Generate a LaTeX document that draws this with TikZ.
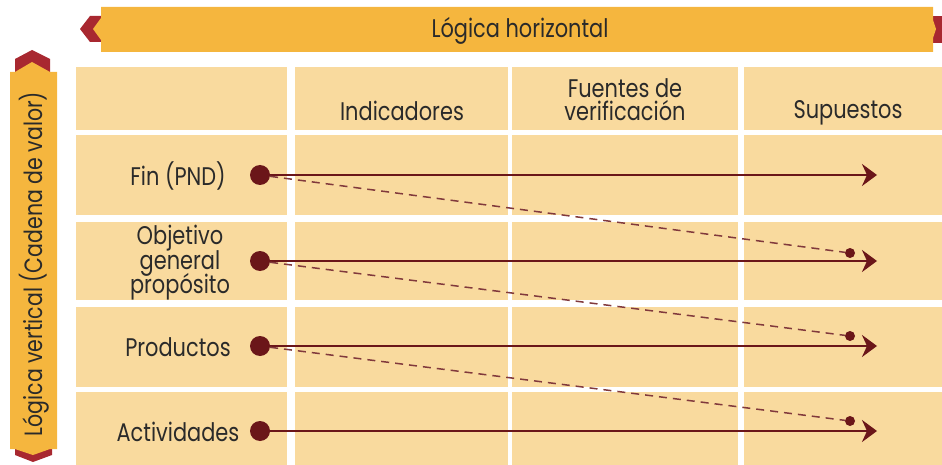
\documentclass[tikz,border=0pt]{standalone}
\usepackage{fontspec}
\setmainfont[FakeStretch=0.82]{Poppins}
\usetikzlibrary{arrows.meta}
\definecolor{banner}{HTML}{F5B63E}
\definecolor{ribbon}{HTML}{A82830}
\definecolor{cell}{HTML}{F9DA9E}
\definecolor{wine}{HTML}{6B1619}
\definecolor{ink}{HTML}{2A2A2A}
\newcommand\mytightlines{\lineskiplimit=-30pt\relax}
\begin{document}
\begin{tikzpicture}[x=1pt,y=-1pt,
  lbl/.style={text=ink,font=\fontsize{25.5}{24.5}\selectfont\mytightlines,align=center,inner sep=0pt},
  bigdot/.style={circle,fill=wine,minimum size=20pt,inner sep=0pt},
  smalldot/.style={circle,fill=wine,minimum size=10pt,inner sep=0pt},
  mainarrow/.style={draw=wine,line width=2.5pt,-{Stealth[length=15pt,width=22pt,inset=5pt]}},
  dashline/.style={draw=wine!85,line width=1.5pt,dash pattern=on 8pt off 6pt}]
\useasboundingbox (0,0) rectangle (942,465);
% cells
\foreach \xa/\xb in {76/287,295/508,512/738,744/942}
  \foreach \ya/\yb in {67/130,135/215,222/300,307/387,392/465}
    \fill[cell] (\xa,\ya) rectangle (\xb,\yb);
% horizontal banner
\fill[ribbon] (101,16) -- (90,16) -- (80,29) -- (90,42) -- (101,42) -- cycle;
\fill[ribbon] (930,16) -- (942,16) -- (942,43) -- (930,43) -- cycle;
\fill[banner] (101,7) -- (933,7) -- (933,20) -- (936,29) -- (933,38) -- (933,52) -- (101,52) -- (101,40) -- (93,29) -- (101,18) -- cycle;
% vertical banner
\fill[ribbon] (15,72) -- (15,59) -- (32,50) -- (50,59) -- (50,72) -- cycle;
\fill[ribbon] (15,449) -- (52,449) -- (52,455) -- (33,462) -- (15,455) -- cycle;
\fill[banner] (10,72) -- (15,72) -- (32,62) -- (50,72) -- (57,72) -- (57,449) -- (50,449) -- (33,455) -- (15,449) -- (10,449) -- cycle;
% banner texts
\node[lbl] (lh) at (520,31) {Lógica horizontal};
\node[lbl,font=\fontsize{25}{24}\selectfont,rotate=90] (lv) at (34,264) {Lógica vertical (Cadena de valor)};
% headers
\node[lbl,font=\fontsize{25.5}{23}\selectfont\mytightlines] (h2) at (625,100) {Fuentes de\\verificación};
\node[lbl] (h1) at (402,111) {Indicadores};
\node[lbl] (h3) at (848,113) {Supuestos};
% row labels
\node[lbl] (r1) at (178,176) {Fin (PND)};
\node[lbl] (r2) at (180,263) {Objetivo\\general\\propósito};
\node[lbl] (r3) at (178,347) {Productos};
\node[lbl] (r4) at (178,432) {Actividades};
% dots
\node[bigdot] (d1) at (260,175) {};
\node[bigdot] (d2) at (260,261) {};
\node[bigdot] (d3) at (260,346) {};
\node[bigdot] (d4) at (260,431) {};
\node[smalldot] (s2) at (850,253) {};
\node[smalldot] (s3) at (850,336) {};
\node[smalldot] (s4) at (850,421) {};
\coordinate (e1) at (877,175);
\coordinate (e2) at (877,261);
\coordinate (e3) at (877,346);
\coordinate (e4) at (877,431);
% connectors
\draw[mainarrow] (d1) -- (e1);
\draw[mainarrow] (d2) -- (e2);
\draw[mainarrow] (d3) -- (e3);
\draw[mainarrow] (d4) -- (e4);
\draw[dashline] (d1) -- (s2);
\draw[dashline] (d2) -- (s3);
\draw[dashline] (d3) -- (s4);
\end{tikzpicture}
\end{document}
